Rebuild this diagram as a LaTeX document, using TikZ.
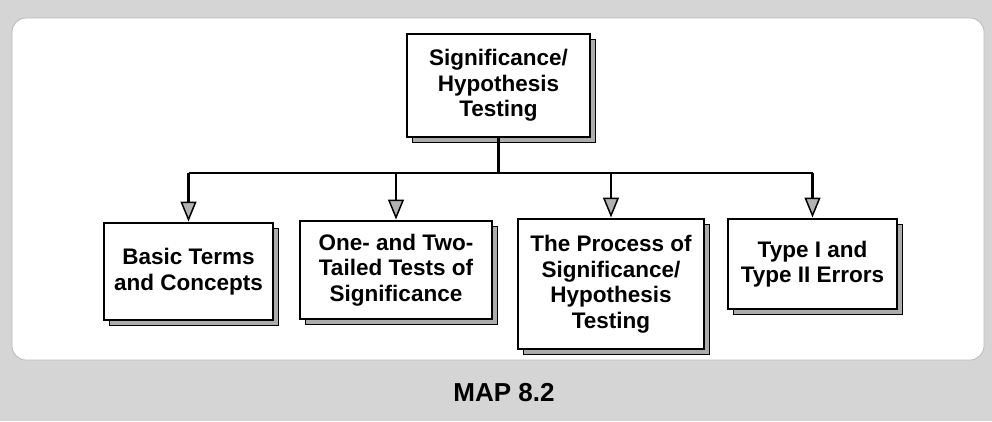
\documentclass[tikz,border=0pt]{standalone}
\usepackage{fontspec}
\setmainfont{Liberation Sans}
\usetikzlibrary{arrows.meta,shadows}
\begin{document}
\begin{tikzpicture}[x=1pt,y=-1pt,
  boxtext/.style={font=\bfseries\fontsize{22.5}{25.5}\selectfont},
  mapbox/.style={draw=black, line width=2pt, fill=white, inner sep=0pt, align=center, boxtext,
    general shadow={fill=gray!65, draw=black, line width=0.8pt, shadow xshift=5pt, shadow yshift=-5pt}},
  conn/.style={line width=2.2pt, draw=black},
  arr/.style={conn, -{Triangle[width=16pt,length=20pt,fill=gray!60,line width=1.5pt]}, shorten >=0.5pt}
]
\useasboundingbox (0,0) rectangle (992,421);
\fill[gray!33] (0,0) rectangle (992,421);
\draw[fill=white, draw=gray!55, line width=0.8pt, rounded corners=14pt] (12,18) rectangle (984,360);

\node[mapbox, minimum width=183pt, minimum height=103pt] (top) at (498.5,85.5) {Significance/\\Hypothesis\\Testing};
\node[mapbox, minimum width=169pt, minimum height=97pt] (b1) at (188.5,271.5) {Basic Terms\\and Concepts};
\node[mapbox, minimum width=192pt, minimum height=98pt] (b2) at (396,270) {One- and Two-\\Tailed Tests of\\Significance};
\node[mapbox, minimum width=186pt, minimum height=130pt] (b3) at (611,284) {The Process of\\Significance/\\Hypothesis\\Testing};
\node[mapbox, minimum width=169pt, minimum height=90pt] (b4) at (812.5,264) {Type I and\\Type II Errors};

\coordinate (bar) at (498.5,173);
\draw[conn] (top.south) -- (bar);
\draw[conn] (bar -| b1) -- (bar -| b4);
\draw[arr] (bar -| b1) -- (b1.north);
\draw[arr] (bar -| b2) -- (b2.north);
\draw[arr] (bar -| b3) -- (b3.north);
\draw[arr] (bar -| b4) -- (b4.north);

\node[font=\bfseries\fontsize{26}{30}\selectfont, inner sep=0pt] (cap) at (504,393) {MAP 8.2};
\end{tikzpicture}
\end{document}
